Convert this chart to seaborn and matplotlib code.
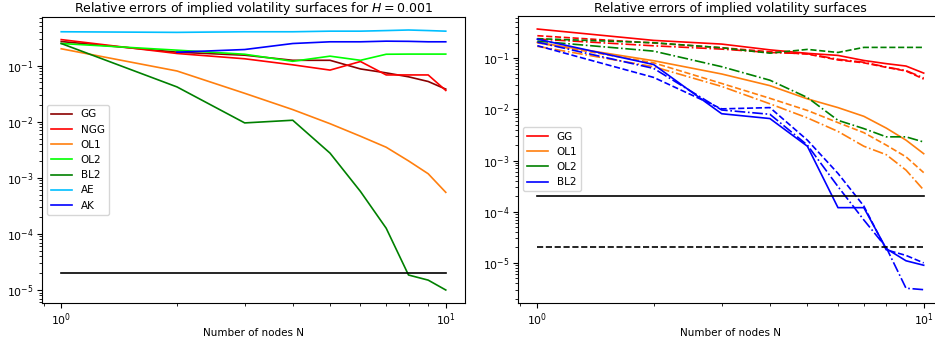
import matplotlib
matplotlib.use("Agg")
import matplotlib.pyplot as plt
import seaborn as sns
import numpy as np
import pandas as pd
from matplotlib.lines import Line2D

N = [1, 2, 3, 4, 5, 6, 7, 8, 9, 10]
N_AK = [2, 3, 4, 5, 6, 7, 8, 9, 10]

# ---- Left panel: H = 0.001 ----
left_GG = [0.268, 0.173, 0.153, 0.124, 0.124, 0.087, 0.074, 0.063, 0.052, 0.038]
left_NGG = [0.29, 0.164, 0.132, 0.103, 0.083, 0.118, 0.068, 0.068, 0.068, 0.036]
left_OL1 = [0.199, 0.080, 0.032, 0.0164, 0.0092, 0.0055, 0.0035, 0.0020, 0.00118, 0.00055]
left_OL2 = [0.247, 0.188, 0.159, 0.119, 0.147, 0.124, 0.159, 0.160, 0.160, 0.160]
left_BL2 = [0.247, 0.0416, 0.0095, 0.0106, 0.00275, 0.00057, 0.000126, 1.85e-5, 1.5e-5, 1.0e-5]
left_AE = [0.40, 0.39, 0.40, 0.40, 0.41, 0.41, 0.42, 0.43, 0.42, 0.41]
left_AK = [0.173, 0.193, 0.247, 0.265, 0.265, 0.272, 0.270, 0.265, 0.265]
left_threshold = 2e-5

# ---- Right panel: three variants (solid, dashed, dash-dot) ----
GG_solid = [0.37, 0.222, 0.188, 0.145, 0.124, 0.113, 0.090, 0.078, 0.070, 0.051]
GG_dashed = [0.274, 0.197, 0.160, 0.133, 0.120, 0.092, 0.081, 0.066, 0.056, 0.039]
GG_dashdot = [0.236, 0.174, 0.150, 0.129, 0.122, 0.095, 0.083, 0.067, 0.057, 0.041]
OL1_solid = [0.203, 0.089, 0.049, 0.029, 0.016, 0.0108, 0.0073, 0.0043, 0.0025, 0.00136]
OL1_dashed = [0.199, 0.081, 0.032, 0.0164, 0.0095, 0.0055, 0.0035, 0.0020, 0.00118, 0.00058]
OL1_dashdot = [0.17, 0.068, 0.028, 0.0128, 0.0068, 0.0037, 0.0019, 0.0013, 0.00065, 0.000265]
OL2_dashed = [0.24, 0.20, 0.159, 0.125, 0.148, 0.129, 0.162, 0.162, 0.162, 0.162]
OL2_dashdot = [0.215, 0.137, 0.068, 0.037, 0.017, 0.0061, 0.0042, 0.0029, 0.0029, 0.0023]
BL2_solid = [0.235, 0.075, 0.0082, 0.0066, 0.0019, 0.00012, 0.00012, 1.9e-5, 1.1e-5, 9e-6]
BL2_dashed = [0.175, 0.042, 0.0102, 0.0108, 0.0025, 0.00056, 0.000129, 1.8e-5, 1.4e-5, 1.0e-5]
BL2_dashdot = [0.205, 0.063, 0.0097, 0.0080, 0.0020, 0.00031, 6.9e-5, 2.0e-5, 3.2e-6, 3.0e-6]
right_threshold_solid = 2e-4
right_threshold_dashed = 2e-5

plt.rcParams['font.family'] = ['DejaVu Sans']
plt.rcParams['font.size'] = 7.5
plt.rcParams['mathtext.fontset'] = 'dejavusans'

fig = plt.figure(figsize=(9.35, 3.41), dpi=100)
ax1 = fig.add_axes([42 / 935, 1 - 303 / 341, (465 - 42) / 935, (303 - 17) / 341])
ax2 = fig.add_axes([518 / 935, 1 - 302.7 / 341, (943 - 518) / 935, (302.7 - 16) / 341])

lw = 1.2


def draw(ax, x, y, color, ls='-', label=None):
    sns.lineplot(x=x, y=y, ax=ax, color=color, linestyle=ls, linewidth=lw,
                 label=label, legend=False, estimator=None)


# Left
draw(ax1, N, left_GG, 'darkred', label='GG')
draw(ax1, N, left_NGG, 'red', label='NGG')
draw(ax1, N, left_OL1, '#ff7f0e', label='OL1')
draw(ax1, N, left_OL2, 'lime', label='OL2')
draw(ax1, N, left_BL2, 'green', label='BL2')
draw(ax1, N, left_AE, 'deepskyblue', label='AE')
draw(ax1, N_AK, left_AK, 'blue', label='AK')
draw(ax1, [N[0], N[-1]], [left_threshold, left_threshold], 'black')

# Right
draw(ax2, N, GG_solid, 'red', '-', 'GG')
draw(ax2, N, GG_dashed, 'red', '--')
draw(ax2, N, GG_dashdot, 'red', '-.')
draw(ax2, N, OL1_solid, '#ff7f0e', '-', 'OL1')
draw(ax2, N, OL1_dashed, '#ff7f0e', '--')
draw(ax2, N, OL1_dashdot, '#ff7f0e', '-.')
draw(ax2, N, OL2_dashed, 'green', '--')
draw(ax2, N, OL2_dashdot, 'green', '-.')
draw(ax2, N, BL2_solid, 'blue', '-', 'BL2')
draw(ax2, N, BL2_dashed, 'blue', '--')
draw(ax2, N, BL2_dashdot, 'blue', '-.')
draw(ax2, [N[0], N[-1]], [right_threshold_solid] * 2, 'black', '-')
draw(ax2, [N[0], N[-1]], [right_threshold_dashed] * 2, 'black', '--')

for ax in (ax1, ax2):
    ax.set_xscale('log')
    ax.set_yscale('log')
    ax.set_xlabel('Number of nodes N', labelpad=0)
    ax.set_ylabel('')
    ax.tick_params(which='major', length=3.5, width=0.8, labelsize=7.8, pad=2.5)
    ax.tick_params(which='minor', length=2, width=0.6)

ax1.set_title('Relative errors of implied volatility surfaces for $H = 0.001$', fontsize=9, pad=3)
ax2.set_title('Relative errors of implied volatility surfaces', fontsize=9, pad=3)

h1 = [Line2D([], [], color=c, lw=lw) for c in ['darkred', 'red', '#ff7f0e', 'lime', 'green', 'deepskyblue', 'blue']]
ax1.legend(h1, ['GG', 'NGG', 'OL1', 'OL2', 'BL2', 'AE', 'AK'], loc='center left')
h2 = [Line2D([], [], color=c, lw=lw) for c in ['red', '#ff7f0e', 'green', 'blue']]
ax2.legend(h2, ['GG', 'OL1', 'OL2', 'BL2'], loc='center left')

fig.savefig('out.png', dpi=100)
